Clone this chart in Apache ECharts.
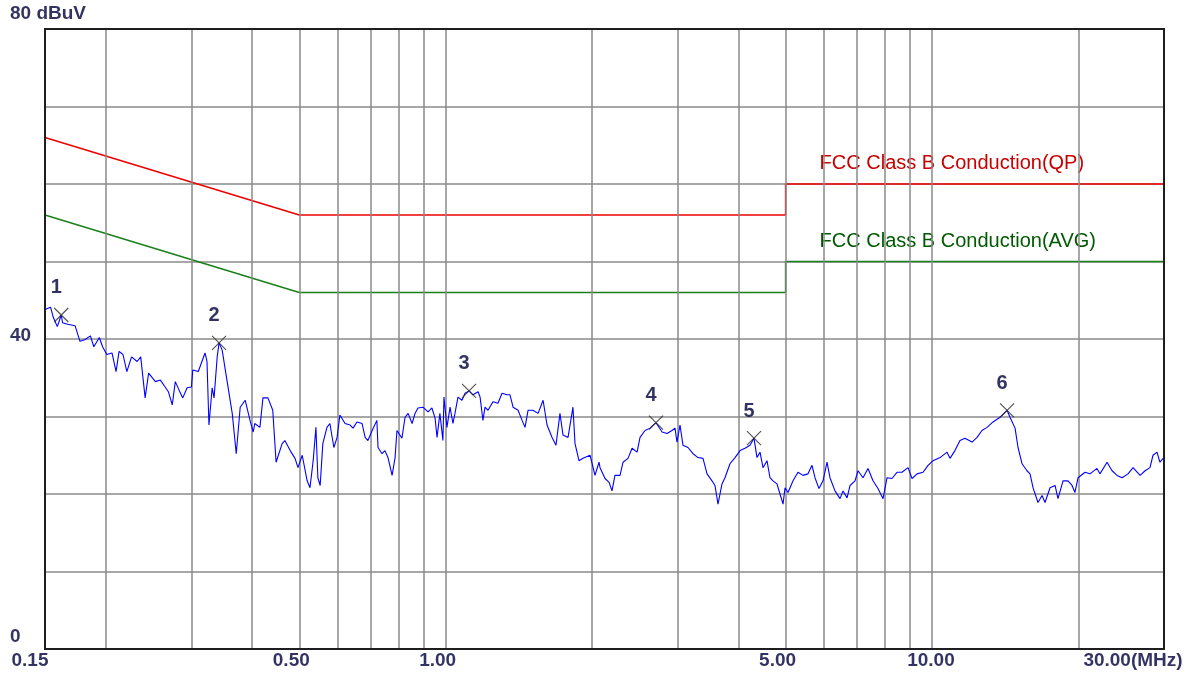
<!DOCTYPE html>
<html>
<head>
<meta charset="utf-8">
<script src="https://cdn.jsdelivr.net/npm/echarts@6/dist/echarts.min.js"></script>
<style>
html,body{margin:0;padding:0;background:#fff;}
#chart{width:1195px;height:676px;}
</style>
</head>
<body>
<div id="chart"></div>
<script>
// ---- data ----
const freqMHz = [
0.150,0.154,0.156,0.159,0.162,0.163,0.167,0.173,0.177,0.181,0.186,0.189,0.194,0.197,0.201,0.206,0.210,0.213,0.217,0.221,
0.226,0.232,0.236,0.241,0.245,0.253,0.259,0.265,0.269,0.274,0.278,0.283,0.288,0.294,0.300,0.302,0.310,0.320,0.323,0.326,
0.331,0.334,0.339,0.342,0.347,0.355,0.364,0.371,0.378,0.387,0.396,0.402,0.405,0.415,0.421,0.431,0.441,0.448,0.461,0.467,
0.479,0.490,0.497,0.507,0.519,0.526,0.534,0.541,0.546,0.552,0.559,0.570,0.578,0.589,0.598,0.606,0.621,0.636,0.645,0.657,
0.673,0.683,0.692,0.706,0.722,0.726,0.740,0.750,0.761,0.776,0.787,0.794,0.813,0.825,0.837,0.853,0.865,0.877,0.898,0.920,
0.937,0.951,0.960,0.973,0.987,0.992,1.006,1.021,1.035,1.045,1.060,1.080,1.096,1.117,1.138,1.166,1.177,1.193,1.205,1.222,
1.251,1.281,1.306,1.337,1.356,1.376,1.409,1.436,1.456,1.477,1.512,1.549,1.586,1.616,1.655,1.686,1.718,1.743,1.785,1.827,
1.845,1.880,1.916,1.981,2.028,2.067,2.077,2.127,2.168,2.198,2.229,2.283,2.316,2.371,2.417,2.475,2.510,2.570,2.632,2.707,
2.786,2.852,2.920,2.962,2.990,3.033,3.076,3.150,3.226,3.303,3.382,3.447,3.529,3.579,3.631,3.700,3.753,3.843,3.936,4.030,
4.126,4.225,4.305,4.367,4.430,4.493,4.579,4.644,4.711,4.801,4.870,4.940,4.987,5.058,5.179,5.303,5.430,5.560,5.666,5.747,
5.857,5.969,6.084,6.170,6.318,6.470,6.563,6.689,6.785,6.946,7.046,7.214,7.387,7.564,7.745,7.931,8.083,8.277,8.473,8.677,
8.928,9.099,9.318,9.585,9.815,10.05,10.39,10.74,10.89,11.15,11.42,11.69,12.09,12.38,12.67,12.98,13.35,13.80,14.27,14.47,
14.82,15.03,15.32,15.68,15.91,16.14,16.52,16.84,17.08,17.49,17.91,18.16,18.60,19.04,19.41,19.68,19.97,20.64,21.13,21.84,
22.15,22.91,23.46,24.02,24.60,25.30,25.91,26.79,27.43,28.07,28.48,29.02,29.43,29.86
];
const levelDbuV = [
43.8,44.1,42.8,41.6,43.1,42.1,41.9,41.7,39.7,39.9,40.4,39.0,40.2,39.0,38.0,38.2,35.8,38.4,38.0,35.8,
37.7,37.1,37.7,32.4,35.6,34.5,34.7,33.8,33.2,31.5,34.5,33.4,32.4,33.7,33.8,36.0,35.8,38.2,37.1,28.9,
33.7,32.4,37.7,39.5,38.6,34.7,30.4,25.2,31.2,32.1,29.5,28.0,29.1,28.6,32.4,32.4,30.8,24.1,26.5,26.9,
25.6,24.6,23.4,25.0,21.7,20.8,24.3,28.6,22.1,21.1,26.5,28.6,29.1,26.0,27.3,30.2,29.1,28.9,28.5,29.3,
29.1,27.3,26.9,28.2,29.5,26.0,25.2,25.6,24.7,22.4,24.7,28.2,27.2,29.9,30.4,29.1,30.4,31.1,31.2,30.6,
31.1,29.8,27.3,30.4,26.9,32.5,28.6,31.2,29.1,30.4,32.5,32.1,33.0,33.3,32.8,33.2,32.5,29.5,31.2,30.8,
31.9,31.7,33.0,32.8,32.8,31.2,30.8,29.5,28.6,30.8,30.8,30.4,32.1,28.9,27.3,26.3,30.4,27.6,27.3,31.2,
26.5,24.3,24.6,25.0,22.4,24.1,23.4,22.0,21.5,20.4,22.4,22.4,24.1,24.6,25.9,25.4,27.3,28.2,28.5,29.2,
28.0,27.8,28.2,28.5,26.7,28.9,26.3,26.0,25.2,24.7,24.6,22.6,21.7,21.1,18.7,21.3,22.1,23.9,24.7,25.6,
25.9,26.3,27.2,24.7,25.4,23.4,24.3,22.1,21.7,21.3,20.0,18.7,20.8,20.2,21.7,22.8,22.4,22.6,23.7,22.1,
20.7,21.7,24.1,22.1,20.4,19.4,20.4,19.5,21.1,21.7,23.0,22.1,23.3,21.7,20.7,19.4,22.1,22.0,22.8,22.8,
23.4,22.0,22.6,22.8,23.7,24.3,24.7,25.4,24.6,25.6,26.9,27.2,26.7,27.3,28.2,28.6,29.3,29.9,30.8,29.9,
28.5,26.0,23.9,23.0,22.6,20.8,18.9,19.8,18.9,20.8,21.1,19.4,21.7,21.7,21.1,20.2,22.1,22.8,22.6,23.3,
22.6,24.1,23.0,22.4,22.1,22.6,23.4,22.4,23.0,23.4,25.0,25.4,24.1,24.6
];

const limitFreq = [0.15, 0.5, 5, 5, 30];
const qpLimit = [66, 56, 56, 60, 60];
const avgLimit = [56, 46, 46, 50, 50];
const qpName = 'FCC Class B Conduction(QP)';
const avgName = 'FCC Class B Conduction(AVG)';

const markerFreq = [0.162, 0.342, 1.117, 2.707, 4.305, 14.27];
const markerLevel = [43.1, 39.5, 33.3, 29.2, 27.2, 30.8];
const markerLabels = ['1', '2', '3', '4', '5', '6'];

const xGridLines = [0.2,0.3,0.4,0.5,0.6,0.7,0.8,0.9,1,2,3,4,5,6,7,8,9,10,20];
const xTickValues = [0.15, 0.5, 1, 5, 10, 30];
const xTickLabels = ['0.15', '0.50', '1.00', '5.00', '10.00', '30.00(MHz)'];
const yTickValues = [0, 40, 80];
const yTickLabels = ['0', '40', '80 dBuV'];

// ---- styles ----
const NAVY = '#00003c';
const FONT = '"Liberation Sans", Arial, sans-serif';
const xLabelDx = [-15, -8, -8, -8, -1, -31];
const yLabelDy = [-12, -3, -15];

const chart = echarts.init(document.getElementById('chart'), null, {renderer: 'canvas'});

function limitSeries(name, levels, lineColor, textColor, dy) {
  return {
    name: name, type: 'line', z: 3, showSymbol: true, symbol: 'circle', symbolSize: 1,
    itemStyle: {color: 'transparent'},
    lineStyle: {color: lineColor, width: 1.5},
    data: limitFreq.map((f, i) => {
      const item = {value: [f, levels[i]]};
      if (i === 3) item.label = {show: true, formatter: name, position: 'inside', align: 'left', verticalAlign: 'middle',
        offset: [34, dy], color: textColor, fontFamily: FONT, fontSize: 20};
      return item;
    })
  };
}

const option = {
  animation: false,
  backgroundColor: '#ffffff',
  grid: {left: 45, right: 31, top: 29, bottom: 27, show: true, borderColor: '#1e1e1e', borderWidth: 2, backgroundColor: 'transparent', z: 10},
  xAxis: {
    type: 'log', logBase: 10, min: 0.15, max: 30,
    axisLine: {show: false}, axisTick: {show: false}, axisLabel: {show: false}, splitLine: {show: false}
  },
  yAxis: {
    type: 'value', min: 0, max: 80, interval: 10,
    axisLine: {show: false}, axisTick: {show: false}, axisLabel: {show: false},
    splitLine: {show: true, lineStyle: {color: '#8a8a8a', width: 1.5}}
  },
  series: [
    {
      name: 'vgrid', type: 'line', data: [], silent: true, z: 1,
      markLine: {
        silent: true, symbol: ['none', 'none'], animation: false,
        label: {show: false},
        lineStyle: {color: '#8a8a8a', width: 1.5, type: 'solid'},
        data: xGridLines.map(v => ({xAxis: v}))
      }
    },
    limitSeries(qpName, qpLimit, '#ee0000', '#c80000', -21),
    limitSeries(avgName, avgLimit, '#1a801a', '#005a00', -20),
    {
      name: 'trace', type: 'line', z: 5, showSymbol: false, symbol: 'none',
      lineStyle: {color: '#0000ff', width: 1.1},
      data: freqMHz.map((f, i) => [f, levelDbuV[i]])
    },
    {
      name: 'markers', type: 'scatter', z: 6,
      symbol: 'path://M0,0L10,10M10,0L0,10', symbolSize: 14,
      itemStyle: {color: 'none', borderColor: '#2a2a2a', borderWidth: 1.2},
      label: {show: true, position: 'inside', offset: [-5, -27], formatter: p => markerLabels[p.dataIndex],
        color: NAVY, fontWeight: 'bold', fontSize: 20, fontFamily: FONT},
      data: markerFreq.map((f, i) => [f, markerLevel[i]])
    },
    {
      name: 'xTicks', type: 'scatter', z: 7, symbolSize: 1, clip: false, silent: true,
      itemStyle: {color: 'transparent'},
      data: xTickValues.map((v, i) => ({value: [v, 0], label: {offset: [xLabelDx[i], 12]}})),
      label: {show: true, position: 'inside', align: 'center', verticalAlign: 'middle',
        formatter: p => xTickLabels[p.dataIndex], color: NAVY, fontWeight: 'bold', fontSize: 19, fontFamily: FONT}
    },
    {
      name: 'yTicks', type: 'scatter', z: 7, symbolSize: 1, clip: false, silent: true,
      itemStyle: {color: 'transparent'},
      data: yTickValues.map((v, i) => ({value: [0.15, v], label: {offset: [-35, yLabelDy[i]]}})),
      label: {show: true, position: 'inside', align: 'left', verticalAlign: 'middle',
        formatter: p => yTickLabels[p.dataIndex], color: NAVY, fontWeight: 'bold', fontSize: 19, fontFamily: FONT}
    }
  ]
};
chart.setOption(option);
</script>
</body>
</html>
